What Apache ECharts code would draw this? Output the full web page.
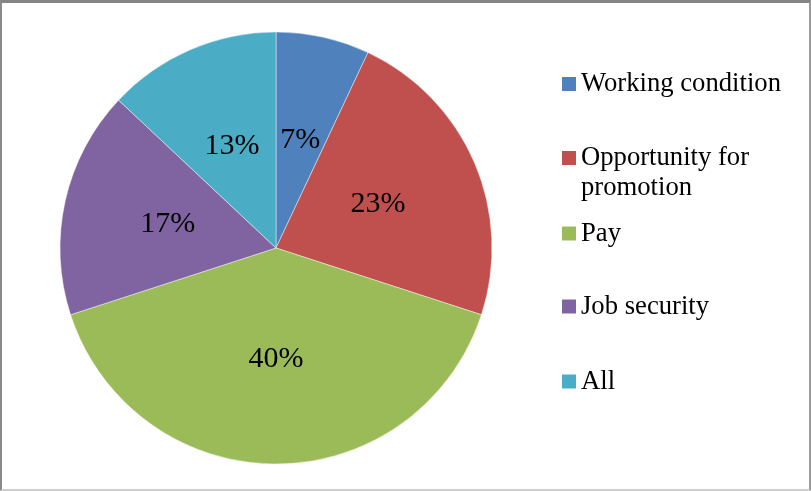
<!DOCTYPE html>
<html>
<head>
<meta charset="utf-8">
<title>Factors of job satisfaction</title>
<script src="https://cdn.jsdelivr.net/npm/echarts@6/dist/echarts.min.js"></script>
<style>
  html, body { margin: 0; padding: 0; background: #fff; }
  #wrap { position: relative; width: 811px; height: 491px; }
  #chart { position: absolute; left: 0; top: 0; width: 811px; height: 491px; }
  #frame {
    position: absolute; left: 0; top: 0; width: 811px; height: 491px;
    box-sizing: border-box; pointer-events: none;
    border-top: 3px solid #858585; border-left: 2px solid #8a8a8a;
    border-right: 2px solid #9a9a9a; border-bottom: 2px solid #cfcfcf;
  }
</style>
</head>
<body>
<div id="wrap">
  <div id="chart"></div>
  <div id="frame"></div>
</div>
<script>
// Share of respondents by the factor they named
const categories = ['Working condition', 'Opportunity for promotion', 'Pay', 'Job security', 'All'];
const shares = [7, 23, 40, 17, 13];
const colors = ['#4F81BD', '#C0504D', '#9BBB59', '#8064A2', '#4BACC6'];

// How each legend entry is written (the long one wraps onto two lines)
const legendText = {
  'Opportunity for promotion': 'Opportunity for\npromotion'
};

const FONT = '"Liberation Serif", "Times New Roman", serif';
const LEGEND_LINE = 30;
// vertical centre of each legend marker
const legendCentres = [84, 158, 233.5, 306.5, 381.5];

const chart = echarts.init(document.getElementById('chart'), null, { renderer: 'canvas' });

const legends = categories.map((name, i) => {
  const text = legendText[name] || name;
  const lines = text.split('\n').length;
  // pad multi-line entries with blank lines above so the marker sits on the first line
  const shown = lines > 1 ? '\n'.repeat(lines - 1) + text : text;
  const blockLines = lines > 1 ? 2 * lines - 1 : 1;
  return {
    orient: 'vertical',
    left: 562,
    top: legendCentres[i] - (blockLines * LEGEND_LINE) / 2,
    padding: 0,
    itemWidth: 14,
    itemHeight: 14,
    itemGap: 0,
    itemTextGap: 11,
    icon: 'rect',
    itemStyle: { borderWidth: 0 },
    data: [name],
    formatter: () => shown,
    textStyle: {
      fontFamily: FONT,
      fontSize: 26.67,
      color: '#000',
      lineHeight: LEGEND_LINE
    }
  };
});

chart.setOption({
  animation: false,
  color: colors,
  legend: legends,
  series: [{
    type: 'pie',
    center: [276, 248],
    radius: [0, 216],
    startAngle: 90,
    clockwise: true,
    avoidLabelOverlap: false,
    itemStyle: {
      borderColor: 'rgba(255,255,255,0.55)',
      borderWidth: 0.8
    },
    label: {
      show: true,
      position: 'inside',
      formatter: p => p.value + '%',
      fontFamily: FONT,
      fontSize: 30,
      color: '#000'
    },
    labelLine: { show: false },
    emphasis: { disabled: true },
    data: categories.map((name, i) => ({ name, value: shares[i] }))
  }]
});
</script>
</body>
</html>
